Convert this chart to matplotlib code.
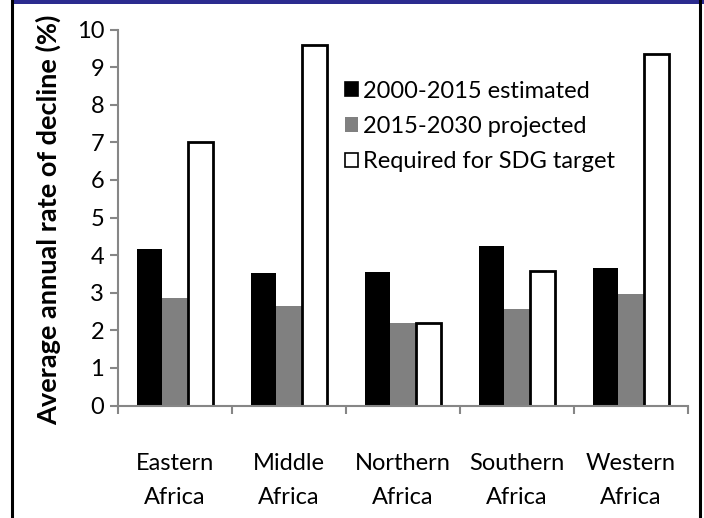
import matplotlib
matplotlib.use("Agg")
import matplotlib.pyplot as plt
from matplotlib.patches import Rectangle
from matplotlib.lines import Line2D
import numpy as np

categories = ["Eastern\nAfrica", "Middle\nAfrica", "Northern\nAfrica", "Southern\nAfrica", "Western\nAfrica"]
series_names = ["2000-2015 estimated", "2015-2030 projected", "Required for SDG target"]
estimated = [4.17, 3.52, 3.54, 4.23, 3.66]
projected = [2.86, 2.65, 2.19, 2.58, 2.97]
required = [7.02, 9.60, 2.19, 3.58, 9.35]
yticks = list(range(0, 11))

plt.rcParams['font.family'] = ['Lato', 'DejaVu Sans']

fig = plt.figure(figsize=(7.04, 5.18), dpi=100)
ax = fig.add_axes([118/704, 1-405.5/518, (688-118)/704, (405.5-29.6)/518])

x = np.arange(len(categories))
w = 0.225
ax.bar(x - w, estimated, w, color="black", edgecolor="black", linewidth=0, label=series_names[0])
ax.bar(x, projected, w, color="#808080", linewidth=0, label=series_names[1])
ax.bar(x + w, required, w, color="white", edgecolor="black", linewidth=2.0, label=series_names[2])

ax.set_xlim(-0.5, len(categories) - 0.5)
ax.set_ylim(0, 10)
ax.set_yticks(yticks)
ax.set_yticklabels([str(t) for t in yticks], fontsize=17)

ax.set_xticks(x)
ax.set_xticklabels(categories, fontsize=17, linespacing=1.8)
ax.tick_params(axis='x', length=0, pad=34)
ax.set_xticks(np.arange(-0.5, len(categories)), minor=True)
ax.tick_params(axis='x', which='minor', length=6, width=1.5, color="#868686", direction='out')
ax.tick_params(axis='y', length=6, width=1.5, color="#868686", direction='out', pad=4)

for s in ['top', 'right']:
    ax.spines[s].set_visible(False)
for s in ['left', 'bottom']:
    ax.spines[s].set_color("#868686")
    ax.spines[s].set_linewidth(1.5)

ax.set_ylabel("Average annual rate of decline (%)", fontsize=19.5, fontweight='bold')
ax.yaxis.set_label_coords(-0.1, 0.493)

leg = ax.legend(loc='upper left', bbox_to_anchor=(0.398, 0.864), frameon=False, fontsize=17,
                handlelength=0.55, handleheight=0.55, handletextpad=0.2, labelspacing=0.6,
                borderaxespad=0, borderpad=0)
for h in leg.legend_handles:
    h.set_linewidth(1.2)

# figure frame
fig.add_artist(Line2D([11.5/704, 11.5/704], [0, 1], transform=fig.transFigure, color="black", linewidth=2.2))
fig.add_artist(Line2D([700/704, 700/704], [0, 1], transform=fig.transFigure, color="black", linewidth=2.2))
fig.add_artist(Rectangle((12/704, 1-3.5/518), 1, 3.5/518, transform=fig.transFigure, color="#2B2B8F", linewidth=0))

fig.savefig("out.png", dpi=100)
